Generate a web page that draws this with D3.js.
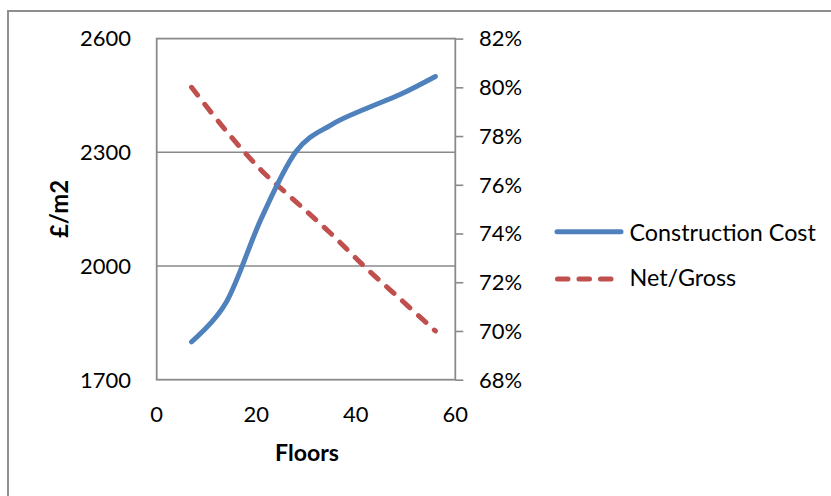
<!DOCTYPE html>
<html>
<head>
<meta charset="utf-8">
<script src="https://cdn.jsdelivr.net/npm/d3@7"></script>
<style>
  html, body { margin: 0; padding: 0; background: #fff; }
  svg { display: block; }
  text { font-family: Lato, "Open Sans", sans-serif; fill: #000; }
</style>
</head>
<body>
<svg id="chart" width="831" height="496"></svg>
<script>
// ---- data ----
const floors = [7, 14, 21, 28, 35, 42, 49, 56];
const constructionCost = [1800, 1905, 2125, 2302, 2372, 2415, 2453, 2500];
const netGross = [0.800, 0.782, 0.766, 0.753, 0.740, 0.726, 0.713, 0.700];
const seriesNames = ["Construction Cost", "Net/Gross"];
const xTicks = [0, 20, 40, 60];
const leftTicks = [1700, 2000, 2300, 2600];
const rightTicks = [0.68, 0.70, 0.72, 0.74, 0.76, 0.78, 0.80, 0.82];
const xTitle = "Floors";
const yTitle = "£/m2";

// ---- layout ----
const svg = d3.select("#chart");
const L = 156.7, R = 455.3, T = 38.6, B = 379.7;
const gridColor = "#8a8a8a";
const blue = "#4F81BD", red = "#C0504D";

const x = d3.scaleLinear().domain([0, 60]).range([L, R]);
const yL = d3.scaleLinear().domain([1700, 2600]).range([B, T]);
const yR = d3.scaleLinear().domain([0.68, 0.82]).range([B, T]);

// outer chart border (extends past right/bottom edges)
svg.append("path")
  .attr("d", `M8,500 L8,11 L840,11`)
  .attr("fill", "none").attr("stroke", "#8f8f8f").attr("stroke-width", 2);

function fitSize(sel, target, base) {
  const w = sel.node().getComputedTextLength();
  const s = base * target / w;
  sel.style("font-size", s + "px");
  return s;
}

// gridlines
svg.append("g").selectAll("line")
  .data(leftTicks.filter(d => d > 1700 && d < 2600))
  .join("line")
  .attr("x1", L).attr("x2", R)
  .attr("y1", d => yL(d)).attr("y2", d => yL(d))
  .attr("stroke", gridColor).attr("stroke-width", 1.6);

// plot border
svg.append("rect")
  .attr("x", L).attr("y", T).attr("width", R - L).attr("height", B - T)
  .attr("fill", "none").attr("stroke", gridColor).attr("stroke-width", 1.8);

// right axis ticks (outward)
const rAxis = d3.axisRight(yR).tickValues(rightTicks).tickSize(8).tickFormat("");
const rg = svg.append("g").attr("transform", `translate(${R},0)`).call(rAxis);
rg.select(".domain").remove();
rg.selectAll("line").attr("stroke", gridColor).attr("stroke-width", 1.6);

// left axis labels
const fs = 22;
const lg = svg.append("g");
const lt = lg.selectAll("text").data(leftTicks).join("text")
  .attr("x", 131).attr("y", d => yL(d) + 7.8)
  .attr("text-anchor", "end")
  .style("font-size", fs + "px")
  .text(d => d3.format("d")(d));
const tickFs = fitSize(lt.filter(d => d === 2600), 51, fs);
lt.style("font-size", tickFs + "px");

// right axis labels
svg.append("g").selectAll("text").data(rightTicks).join("text")
  .attr("x", 479).attr("y", d => yR(d) + 7.8)
  .attr("text-anchor", "start")
  .style("font-size", tickFs + "px")
  .text(d => d3.format(".0%")(d));

// x axis labels
svg.append("g").selectAll("text").data(xTicks).join("text")
  .attr("x", d => x(d)).attr("y", 421.7)
  .attr("text-anchor", "middle")
  .style("font-size", tickFs + "px")
  .text(d => d);

// axis titles
const xt = svg.append("text")
  .attr("x", 307).attr("y", 460.5)
  .attr("text-anchor", "middle")
  .style("font-weight", "bold").style("font-size", fs + "px")
  .text(xTitle);
fitSize(xt, 64, fs);

const yt = svg.append("text")
  .attr("transform", `translate(67.5,209) rotate(-90)`)
  .attr("text-anchor", "middle")
  .style("font-weight", "bold").style("font-size", fs + "px")
  .text(yTitle);
fitSize(yt, 58, fs);

// lines
const curve = d3.curveCardinal.tension(0);
const costLine = d3.line().x((d, i) => x(floors[i])).y(d => yL(d)).curve(curve);
const ngLine = d3.line().x((d, i) => x(floors[i])).y(d => yR(d)).curve(curve);

svg.append("path").datum(netGross)
  .attr("d", ngLine)
  .attr("fill", "none").attr("stroke", red).attr("stroke-width", 5)
  .attr("stroke-linecap", "round").attr("stroke-dasharray", "10,11.5");

svg.append("path").datum(constructionCost)
  .attr("d", costLine)
  .attr("fill", "none").attr("stroke", blue).attr("stroke-width", 5)
  .attr("stroke-linecap", "round").attr("stroke-linejoin", "round");

// legend
const legend = svg.append("g");
legend.append("line")
  .attr("x1", 557).attr("x2", 621).attr("y1", 231.7).attr("y2", 231.7)
  .attr("stroke", blue).attr("stroke-width", 5).attr("stroke-linecap", "round");
legend.append("line")
  .attr("x1", 557.5).attr("x2", 612).attr("y1", 279).attr("y2", 279)
  .attr("stroke", red).attr("stroke-width", 5).attr("stroke-linecap", "round")
  .attr("stroke-dasharray", "10.5,11");
const l1 = legend.append("text").attr("x", 629.5).attr("y", 240.5)
  .style("font-size", fs + "px").text(seriesNames[0]);
const legFs = fitSize(l1, 186.5, fs);
legend.append("text").attr("x", 629.5).attr("y", 286)
  .style("font-size", legFs + "px").text(seriesNames[1]);
</script>
</body>
</html>
